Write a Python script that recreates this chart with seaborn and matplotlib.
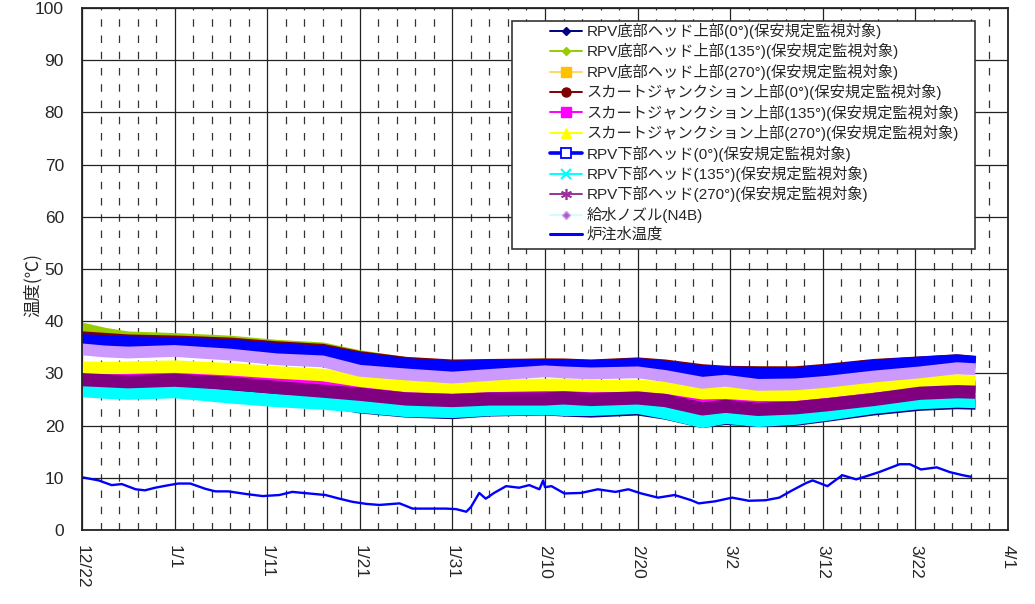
import matplotlib
matplotlib.use("Agg")
import matplotlib.pyplot as plt
import seaborn as sns
from matplotlib.lines import Line2D
from matplotlib.patches import Rectangle

# ---------------- data (day offsets from 12/22) ----------------
tick_days = [0, 10, 20, 30, 40, 50, 60, 70, 80, 90, 100]
tick_labels = ["12/22", "1/1", "1/11", "1/21", "1/31", "2/10", "2/20", "3/2", "3/12", "3/22", "4/1"]

band_days = [0, 2.5, 5, 10, 16, 21, 26, 30, 35, 40, 44, 50, 52, 55, 60, 63, 67, 69.5, 73, 77, 80.5, 85.5, 90.5, 94.5, 96.5]

rpv_bottom_0 = [27.3, 27.0, 26.9, 27.0, 26.2, 25.2, 24.6, 23.4, 22.6, 22.3, 22.8, 23.0, 22.8, 22.6, 23.0, 22.2, 20.6, 21.2, 20.8, 21.0, 21.8, 23.0, 23.9, 24.2, 24.1]
rpv_bottom_135 = [38.6, 37.6, 36.9, 36.6, 36.1, 35.3, 34.8, 33.3, 32.0, 31.4, 31.5, 31.7, 31.6, 31.5, 31.8, 31.4, 30.5, 30.3, 30.2, 30.1, 30.6, 31.4, 32.0, 32.4, 32.1]
rpv_bottom_270 = [30.5, 30.4, 30.5, 30.7, 30.2, 29.6, 29.1, 28.0, 27.0, 26.7, 27.0, 27.2, 27.2, 27.0, 27.0, 26.7, 25.6, 25.7, 25.3, 25.3, 25.9, 26.9, 27.8, 28.0, 27.8]
skirt_0 = [37.0, 36.7, 36.4, 36.2, 35.8, 35.1, 34.6, 33.2, 32.1, 31.6, 31.7, 31.8, 31.8, 31.6, 32.0, 31.6, 30.7, 30.4, 30.3, 30.3, 30.8, 31.7, 32.2, 32.6, 32.3]
skirt_135 = [29.7, 29.6, 29.6, 29.9, 29.4, 28.7, 28.2, 27.3, 26.3, 26.0, 26.3, 26.4, 26.5, 26.3, 26.4, 26.0, 24.7, 24.9, 24.5, 24.6, 25.2, 26.2, 27.2, 27.5, 27.4]
skirt_270 = [31.1, 31.0, 31.1, 31.3, 30.8, 30.2, 29.7, 28.6, 27.6, 27.3, 27.6, 27.8, 27.8, 27.6, 27.6, 27.3, 26.2, 26.3, 25.9, 25.9, 26.5, 27.5, 28.4, 28.6, 28.4]
lower_0 = [36.2, 36.0, 35.8, 35.6, 35.2, 34.5, 34.0, 32.7, 31.6, 31.1, 31.3, 31.4, 31.4, 31.2, 31.6, 31.1, 30.2, 30.0, 29.9, 29.8, 30.4, 31.3, 31.9, 32.3, 32.0]
lower_135 = [26.7, 26.4, 26.2, 26.5, 25.5, 24.8, 24.3, 23.7, 22.9, 22.7, 23.1, 23.3, 23.1, 23.1, 23.5, 22.5, 20.8, 21.6, 21.0, 21.4, 22.2, 23.5, 24.4, 24.7, 24.6]
lower_270 = [28.8, 28.6, 28.4, 28.7, 28.1, 27.3, 26.6, 26.0, 25.1, 24.8, 25.1, 25.1, 25.3, 25.0, 25.3, 24.8, 23.2, 23.7, 23.1, 23.4, 24.0, 25.0, 26.2, 26.5, 26.4]
feedwater_n4b = [34.6, 34.2, 34.0, 34.3, 33.6, 32.7, 32.3, 30.5, 29.8, 29.2, 29.7, 30.4, 30.2, 30.0, 30.2, 29.5, 28.2, 28.6, 27.8, 27.9, 28.4, 29.4, 30.2, 31.0, 30.8]

inj_days = [0, 1.8, 3.2, 4.3, 5.8, 6.8, 7.9, 9.4, 10.4, 11.7, 13.3, 14.4, 15.8, 17.7, 19.5, 21.3, 22.7, 24.5, 26.3, 27.8,
            29.2, 30.7, 32.1, 34.3, 35.7, 37.5, 39.3, 40.4, 41.5, 42.0, 42.9, 43.6, 44.5, 45.8, 47.2, 48.3, 49.4, 49.8, 50.0, 50.7,
            52.1, 53.9, 55.7, 57.6, 59.0, 60.4, 62.2, 64.0, 65.8, 66.6, 68.4, 70.2, 72.0, 73.8, 75.3, 76.7, 78.2, 78.9, 80.5, 82.1,
            83.6, 84.7, 86.1, 88.3, 89.4, 90.6, 92.3, 93.7, 95.1, 96.0]
injection_temp = [10.1, 9.5, 8.6, 8.8, 7.8, 7.6, 8.1, 8.6, 8.9, 8.9, 7.9, 7.4, 7.4, 6.9, 6.5, 6.7, 7.3, 7.0, 6.7, 6.0,
                  5.4, 5.0, 4.8, 5.1, 4.1, 4.1, 4.1, 4.0, 3.5, 4.4, 7.1, 6.0, 7.1, 8.4, 8.1, 8.6, 7.8, 9.5, 8.2, 8.4,
                  7.0, 7.1, 7.8, 7.3, 7.8, 7.0, 6.2, 6.7, 5.7, 5.1, 5.5, 6.2, 5.6, 5.7, 6.2, 7.6, 9.0, 9.5, 8.4, 10.5,
                  9.7, 10.3, 11.1, 12.6, 12.6, 11.6, 12.0, 11.1, 10.5, 10.2]

labels = [
    "RPV底部ヘッド上部(0°)(保安規定監視対象)",
    "RPV底部ヘッド上部(135°)(保安規定監視対象)",
    "RPV底部ヘッド上部(270°)(保安規定監視対象)",
    "スカートジャンクション上部(0°)(保安規定監視対象)",
    "スカートジャンクション上部(135°)(保安規定監視対象)",
    "スカートジャンクション上部(270°)(保安規定監視対象)",
    "RPV下部ヘッド(0°)(保安規定監視対象)",
    "RPV下部ヘッド(135°)(保安規定監視対象)",
    "RPV下部ヘッド(270°)(保安規定監視対象)",
    "給水ノズル(N4B)",
    "炉注水温度",
]

# ---------------- style ----------------
sns.set_theme(style="white")
plt.rcParams['font.family'] = ['Liberation Sans', 'Noto Sans CJK JP', 'DejaVu Sans']

W, H = 1035, 604
fig = plt.figure(figsize=(W / 100, H / 100), dpi=100)
ax = fig.add_axes([82 / W, 1 - 530 / H, (1008 - 82) / W, (530 - 8) / H])

band_series = [
    (rpv_bottom_0, "#000080", 8.0),
    (rpv_bottom_135, "#99CC00", 8.5),
    (rpv_bottom_270, "#FFCC00", 7.0),
    (skirt_0, "#800000", 8.0),
    (skirt_135, "#FF00FF", 8.5),
    (skirt_270, "#FFFF00", 9.0),
    (lower_0, "#0000FF", 10.0),
    (lower_135, "#00FFFF", 9.5),
    (lower_270, "#800080", 9.5),
    (feedwater_n4b, "#CC99FF", 8.5),
]
for vals, col, lw in band_series:
    sns.lineplot(x=band_days, y=vals, color=col, linewidth=lw, ax=ax, legend=False,
                 solid_capstyle='butt', solid_joinstyle='round')

sns.lineplot(x=inj_days, y=injection_temp, color="#0000FF", linewidth=1.7, ax=ax, legend=False)

# ---------------- axes ----------------
ax.set_xlim(0, 100)
ax.set_ylim(0, 100)
ax.set_xticks(tick_days)
ax.set_xticklabels(tick_labels, rotation=-90, va='top', ha='center', fontsize=12.5)
ax.set_xticks(range(0, 101, 2), minor=True)
ax.set_yticks(range(0, 101, 10))
ax.set_yticklabels([str(v) for v in range(0, 101, 10)], fontsize=12.5)
ax.tick_params(axis='both', which='both', length=0)
ax.tick_params(axis='y', pad=13)
ax.tick_params(axis='x', pad=11)
ax.set_xlabel("")
ax.set_ylabel("温度(℃)", fontsize=12.5, family=['Noto Sans CJK JP', 'DejaVu Sans'])
ax.yaxis.set_label_coords(-0.043, 0.47)

ax.set_axisbelow(True)
ax.grid(which='major', axis='both', color='#222222', linewidth=0.9, linestyle='-')
ax.grid(which='minor', axis='x', color='#333333', linewidth=0.9, linestyle=(0, (6, 7)))
for s in ax.spines.values():
    s.set_color('#222222')
    s.set_linewidth(1.3)

# ---------------- legend ----------------
handles = [
    Line2D([], [], color="#000080", marker='D', markersize=4.5, linewidth=1.4),
    Line2D([], [], color="#99CC00", marker='D', markersize=4.5, linewidth=1.4),
    Line2D([], [], color="#FFD966", marker='s', markersize=7, markerfacecolor="#FFC000", markeredgecolor="#FFC000", linewidth=1.4),
    Line2D([], [], color="#800000", marker='o', markersize=6.5, linewidth=1.4),
    Line2D([], [], color="#FF00FF", marker='s', markersize=6.5, linewidth=1.4),
    Line2D([], [], color="#FFFF00", marker='^', markersize=6.5, linewidth=1.4),
    Line2D([], [], color="#0000FF", marker='s', markersize=6.5, markerfacecolor='white', markeredgecolor="#0000FF", markeredgewidth=1.3, linewidth=2.6),
    Line2D([], [], color="#00FFFF", marker='x', markersize=7, markeredgewidth=1.5, linewidth=1.4),
    Line2D([], [], color="#993399", marker=(6, 2, 0), markersize=8, markeredgewidth=1.2, linewidth=1.4),
    Line2D([], [], color="#CCFFFF", marker='D', markersize=4, markerfacecolor="#B060B0", markeredgecolor="#CC99FF", linewidth=1.4),
    Line2D([], [], color="#0000FF", linewidth=2.2),
]

box = Rectangle((512 / W, 1 - 249 / H), (975 - 512) / W, (249 - 21) / H, transform=fig.transFigure,
                facecolor='white', edgecolor='#333333', linewidth=1.2, zorder=10, clip_on=False)
ax.add_patch(box)
leg = ax.legend(handles, labels, loc='upper left', bbox_to_anchor=(550 / W, 1 - 23 / H),
                bbox_transform=fig.transFigure, frameon=False, borderpad=0, borderaxespad=0,
                handlelength=2.1, handletextpad=0.3, labelspacing=0.29, fontsize=11)
leg.set_zorder(11)

fig.savefig("out.png", dpi=100)
